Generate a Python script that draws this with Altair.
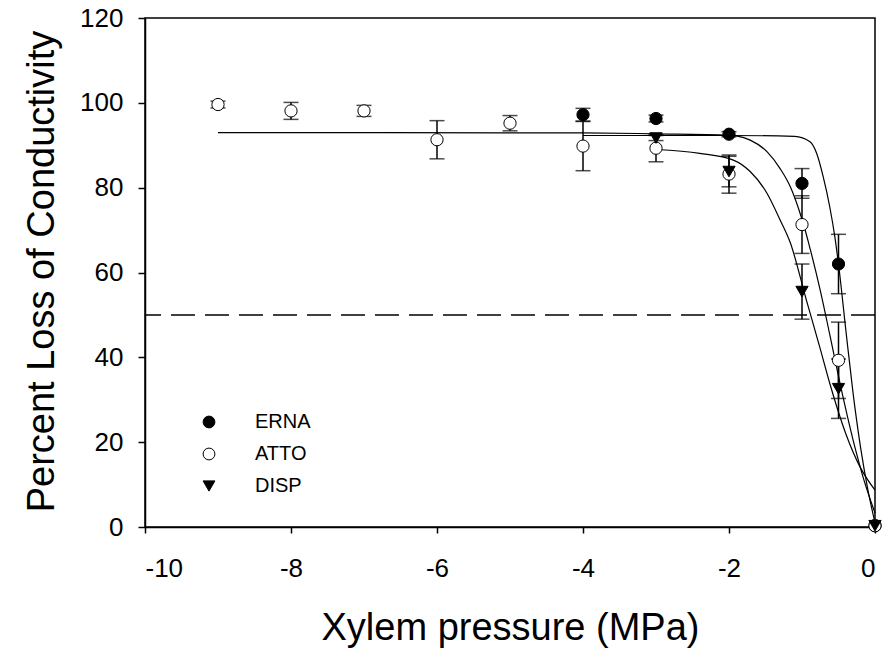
import altair as alt
import pandas as pd

# ---- measured points (mean, error) ----
series_names = ["ERNA", "ATTO", "DISP"]

erna_x = [-4, -3, -2, -1, -0.5, 0]
erna_y = [97.2, 96.3, 92.6, 81.0, 62.0, 0.3]
erna_e = [1.5, 0.8, 0.6, 3.5, 7.0, 0]

atto_x = [-9, -8, -7, -6, -5, -4, -3, -2, -1, -0.5, 0]
atto_y = [99.6, 98.1, 98.1, 91.3, 95.2, 89.8, 89.3, 83.2, 71.3, 39.3, 0.3]
atto_e = [0.8, 2.0, 1.3, 4.5, 1.8, 5.8, 3.2, 4.5, 6.8, 9.0, 0]

disp_x = [-3, -2, -1, -0.5, 0]
disp_y = [91.7, 83.8, 55.5, 32.6, 0.3]
disp_e = [0.6, 3.6, 6.5, 7.0, 0]

# ---- fitted curves ----
erna_cx = [-4, -2, -1.1, -0.89, -0.80, -0.71, -0.62, -0.55, -0.5, -0.4, -0.3, -0.2, -0.1, 0]
erna_cy = [92.3, 92.3, 92.1, 90.8, 88.1, 82.6, 75.5, 68.4, 62.0, 46.5, 31.5, 19.0, 9.0, 1.0]

atto_cx = [-9, -4, -3, -2, -1.9, -1.71, -1.48, -1.30, -1.16, -1.05, -0.96, -0.91, -0.75, -0.62, -0.48, -0.3, -0.15, 0]
atto_cy = [93.0, 92.9, 92.7, 92.4, 92.2, 91.2, 88.5, 84.5, 80.2, 75.2, 70.2, 67.0, 55.8, 45.4, 33.9, 20.5, 11.0, 3.3]

disp_cx = [-3, -2.4, -1.94, -1.71, -1.48, -1.30, -1.16, -0.94, -0.75, -0.62, -0.4, -0.2, 0]
disp_cy = [89.0, 88.1, 86.5, 83.8, 78.7, 72.4, 67.0, 53.5, 42.0, 33.9, 22.0, 14.0, 8.7]

ref_y = [50]

x_ticks = [-10, -8, -6, -4, -2, 0]
y_ticks = [0, 20, 40, 60, 80, 100, 120]

FONT = "Liberation Sans"

pts = pd.concat([
    pd.DataFrame({"x": erna_x, "y": erna_y, "err": erna_e, "series": "ERNA"}),
    pd.DataFrame({"x": atto_x, "y": atto_y, "err": atto_e, "series": "ATTO"}),
    pd.DataFrame({"x": disp_x, "y": disp_y, "err": disp_e, "series": "DISP"}),
], ignore_index=True)

curves = pd.concat([
    pd.DataFrame({"x": erna_cx, "y": erna_cy, "series": "ERNA"}),
    pd.DataFrame({"x": atto_cx, "y": atto_cy, "series": "ATTO"}),
    pd.DataFrame({"x": disp_cx, "y": disp_cy, "series": "DISP"}),
], ignore_index=True)

xscale = alt.Scale(domain=[-10, 0], nice=False, zero=False)
yscale = alt.Scale(domain=[0, 120], nice=False)

xaxis = alt.Axis(values=x_ticks, labelExpr="'' + datum.value", title="Xylem pressure (MPa)",
                 tickSize=6, labelPadding=22, titleX=365, titleY=112,
                 titleBaseline="alphabetic", grid=False)
yaxis = alt.Axis(values=y_ticks, labelExpr="'' + datum.value", title="Percent Loss of Conductivity",
                 tickSize=7, labelPadding=15, titleX=-92, titleY=253, titleAngle=270,
                 titleBaseline="alphabetic", grid=False)

base_curve = alt.Chart(curves).mark_line(color="black", strokeWidth=1.2, interpolate="monotone").encode(
    x=alt.X("x:Q", scale=xscale, axis=xaxis),
    y=alt.Y("y:Q", scale=yscale, axis=yaxis),
    detail="series:N",
)

dash = alt.Chart(pd.DataFrame({"y": ref_y})).mark_rule(
    color="black", strokeWidth=1.5, strokeDash=[24, 10]
).encode(y=alt.Y("y:Q", scale=yscale))

errbase = alt.Chart(pts).transform_filter("datum.err > 0").transform_calculate(
    lo="datum.y - datum.err", hi="datum.y + datum.err"
)
err_rule = errbase.mark_rule(color="black", strokeWidth=1.5).encode(
    x=alt.X("x:Q", scale=xscale), y=alt.Y("lo:Q", scale=yscale), y2="hi:Q"
)
cap_lo = errbase.mark_tick(color="black", orient="horizontal", size=15, thickness=1.5).encode(
    x=alt.X("x:Q", scale=xscale), y=alt.Y("lo:Q", scale=yscale)
)
cap_hi = errbase.mark_tick(color="black", orient="horizontal", size=15, thickness=1.5).encode(
    x=alt.X("x:Q", scale=xscale), y=alt.Y("hi:Q", scale=yscale)
)

leg = alt.Legend(title=None, orient="none", legendX=54, legendY=394, labelFontSize=20,
                 labelFont=FONT, labelColor="black", symbolSize=140, rowPadding=12,
                 labelOffset=36, padding=0, symbolStrokeWidth=1, symbolOpacity=1)

points = alt.Chart(pts).mark_point(strokeWidth=1, opacity=1, filled=False, size=150).encode(
    x=alt.X("x:Q", scale=xscale),
    y=alt.Y("y:Q", scale=yscale),
    shape=alt.Shape("series:N", scale=alt.Scale(domain=series_names,
                                                 range=["circle", "circle", "triangle-down"]), legend=leg),
    fill=alt.Fill("series:N", scale=alt.Scale(domain=series_names,
                                               range=["black", "white", "black"]), legend=leg),
    stroke=alt.Stroke("series:N", scale=alt.Scale(domain=series_names,
                                                   range=["black", "black", "black"]), legend=leg),
)

chart = alt.layer(base_curve, dash, err_rule, cap_lo, cap_hi, points).properties(
    width=730, height=509,
    autosize=alt.AutoSizeParams(type="none"),
    padding={"left": 145, "top": 18, "right": 7, "bottom": 129},
    background="white",
).configure_view(stroke="black", strokeWidth=1.5).configure_axis(
    labelFont=FONT, titleFont=FONT, labelFontSize=26, titleFontSize=38,
    titleFontWeight="normal", labelColor="black", titleColor="black",
    tickColor="black", domainColor="black", domainWidth=1.5, tickWidth=1.5,
)

chart.save("out.html", embed_options={"renderer": "svg", "actions": False})
